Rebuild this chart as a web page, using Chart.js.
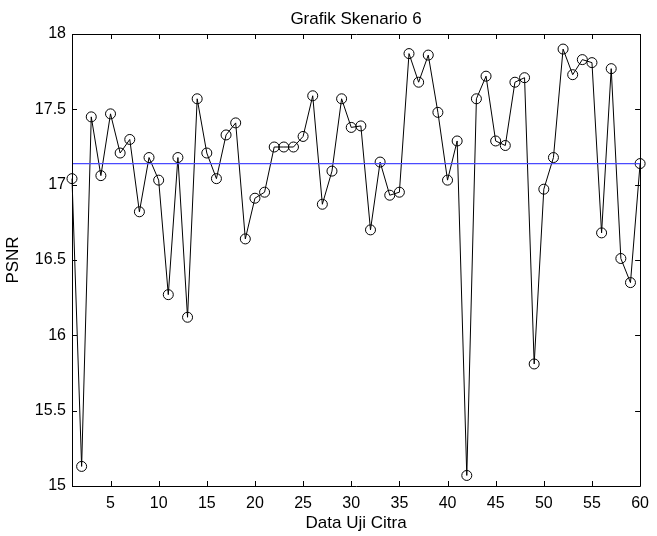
<!DOCTYPE html>
<html>
<head>
<meta charset="utf-8">
<title>Grafik Skenario 6</title>
<script src="https://cdn.jsdelivr.net/npm/chart.js@4"></script>
<style>
  html, body { margin: 0; padding: 0; background: #fff; }
  #wrap { width: 657px; height: 536px; position: relative; }
</style>
</head>
<body>
<div id="wrap"><canvas id="psnrChart" width="657" height="536"></canvas></div>
<script>
// ===== DATA =====
const dataIndex = [1, 2, 3, 4, 5, 6, 7, 8, 9, 10, 11, 12, 13, 14, 15, 16, 17, 18, 19, 20,
  21, 22, 23, 24, 25, 26, 27, 28, 29, 30, 31, 32, 33, 34, 35, 36, 37, 38, 39, 40,
  41, 42, 43, 44, 45, 46, 47, 48, 49, 50, 51, 52, 53, 54, 55, 56, 57, 58, 59, 60];

const psnrValues = [17.04, 15.13, 17.45, 17.06, 17.47, 17.21, 17.30, 16.82, 17.18, 17.03,
  16.27, 17.18, 16.12, 17.57, 17.21, 17.04, 17.33, 17.41, 16.64, 16.91,
  16.95, 17.25, 17.25, 17.25, 17.32, 17.59, 16.87, 17.09, 17.57, 17.38,
  17.39, 16.70, 17.15, 16.93, 16.95, 17.87, 17.68, 17.86, 17.48, 17.03,
  17.29, 15.07, 17.57, 17.72, 17.29, 17.26, 17.68, 17.71, 15.81, 16.97,
  17.18, 17.90, 17.73, 17.83, 17.81, 16.68, 17.77, 16.51, 16.35, 17.14];

const meanX = [1, 60];
const meanY = [17.14, 17.14];

const xTicks = [5, 10, 15, 20, 25, 30, 35, 40, 45, 50, 55, 60];
const yTicks = [15, 15.5, 16, 16.5, 17, 17.5, 18];

const FONT = 'Liberation Sans, Arial, sans-serif';

// ===== FRAME + INWARD TICKS (matlab style) =====
const framePlugin = {
  id: 'frame',
  afterDraw(chart) {
    const { ctx, chartArea: a, scales } = chart;
    ctx.save();
    ctx.strokeStyle = '#000';
    ctx.lineWidth = 1;
    ctx.beginPath();
    ctx.rect(Math.round(a.left) + 0.5, Math.round(a.top) + 0.5,
      Math.round(a.right - a.left), Math.round(a.bottom - a.top));
    ctx.stroke();

    const len = 5;
    ctx.beginPath();
    scales.x.ticks.forEach((t) => {
      const px = Math.round(scales.x.getPixelForValue(t.value)) + 0.5;
      ctx.moveTo(px, a.bottom);
      ctx.lineTo(px, a.bottom - len);
      ctx.moveTo(px, a.top);
      ctx.lineTo(px, a.top + len);
    });
    scales.y.ticks.forEach((t) => {
      const py = Math.round(scales.y.getPixelForValue(t.value)) + 0.5;
      ctx.moveTo(a.left, py);
      ctx.lineTo(a.left + len, py);
      ctx.moveTo(a.right, py);
      ctx.lineTo(a.right - len, py);
    });
    ctx.stroke();

    // title
    ctx.fillStyle = '#000';
    ctx.font = '17px ' + FONT;
    ctx.textAlign = 'center';
    ctx.textBaseline = 'middle';
    ctx.fillText('Grafik Skenario 6', (a.left + a.right) / 2, 19);
    ctx.restore();
  },
};

// ===== CHART =====
const ctx = document.getElementById('psnrChart').getContext('2d');
const psnrChart = new Chart(ctx, {
  type: 'line',
  data: {
    datasets: [
      {
        label: 'PSNR',
        data: dataIndex.map((x, i) => ({ x: x, y: psnrValues[i] })),
        borderColor: '#000000',
        borderWidth: 1,
        pointStyle: 'circle',
        pointRadius: 5,
        pointBorderColor: '#000000',
        pointBorderWidth: 1,
        pointBackgroundColor: 'rgba(0,0,0,0)',
        tension: 0,
        fill: false,
        clip: false,
        order: 1,
      },
      {
        label: 'Rata-rata',
        data: meanX.map((x, i) => ({ x: x, y: meanY[i] })),
        borderColor: '#4a4aff',
        borderWidth: 1.3,
        pointRadius: 0,
        fill: false,
        order: 0,
      },
    ],
  },
  options: {
    responsive: false,
    animation: false,
    devicePixelRatio: 1,
    layout: { padding: { top: 34, right: 12, left: 0, bottom: 0 } },
    plugins: {
      legend: { display: false },
      title: { display: false },
      tooltip: { enabled: false },
    },
    scales: {
      x: {
        type: 'linear',
        min: 1,
        max: 60,
        afterBuildTicks: (scale) => {
          scale.ticks = xTicks.map((v) => ({ value: v }));
        },
        afterFit: (scale) => {
          scale.height = 50;
        },
        grid: { display: false, drawTicks: false },
        border: { display: false },
        ticks: {
          color: '#000',
          font: { family: FONT, size: 16 },
          padding: 8,
          maxRotation: 0,
          autoSkip: false,
          callback: (v) => String(v),
        },
        title: {
          display: true,
          text: 'Data Uji Citra',
          color: '#000',
          font: { family: FONT, size: 17 },
          padding: { top: 0, bottom: 2 },
        },
      },
      y: {
        type: 'linear',
        min: 15,
        max: 18,
        afterBuildTicks: (scale) => {
          scale.ticks = yTicks.map((v) => ({ value: v }));
        },
        afterFit: (scale) => {
          scale.width = 72;
        },
        grid: { display: false, drawTicks: false },
        border: { display: false },
        ticks: {
          color: '#000',
          font: { family: FONT, size: 16 },
          padding: 6,
          autoSkip: false,
          callback: (v) => String(v),
        },
        title: {
          display: true,
          text: 'PSNR',
          color: '#000',
          font: { family: FONT, size: 17 },
          padding: { top: 3, bottom: 0 },
        },
      },
    },
  },
  plugins: [framePlugin],
});
</script>
</body>
</html>
